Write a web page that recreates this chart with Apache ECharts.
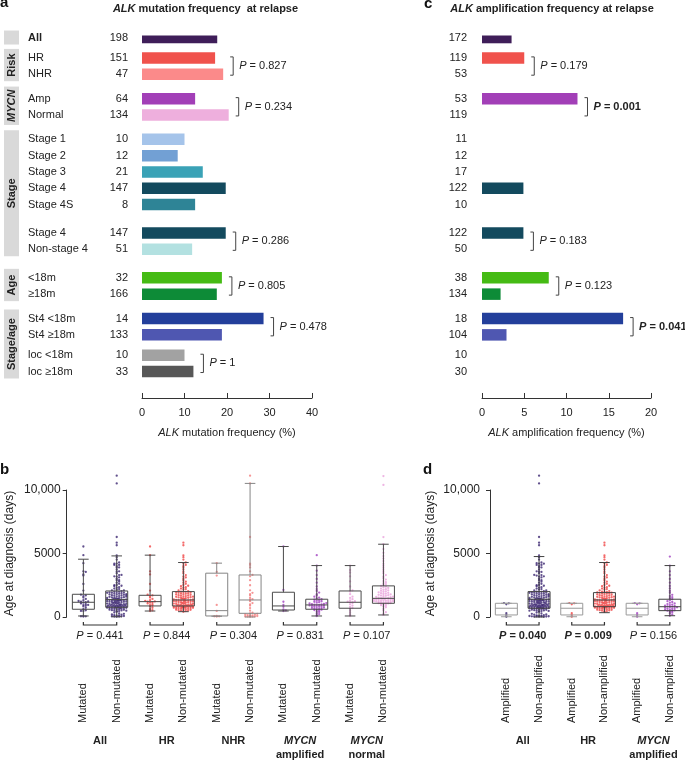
<!DOCTYPE html>
<html>
<head>
<meta charset="utf-8">
<title>ALK at relapse</title>
<script src="https://cdn.jsdelivr.net/npm/echarts@6.0.0/dist/echarts.min.js"></script>
<style>
html,body{margin:0;padding:0;background:#ffffff;}
#chart{width:685px;height:761px;}
</style>
</head>
<body>
<div id="chart"></div>
<script>
// ================= DATA =================
const rowLabels = ['All','HR','NHR','Amp','Normal','Stage 1','Stage 2','Stage 3','Stage 4','Stage 4S','Stage 4','Non-stage 4','<18m','\u226518m','St4 <18m','St4 \u226518m','loc <18m','loc \u226518m'];
const mutCounts = [198,151,47,64,134,10,12,21,147,8,147,51,32,166,14,133,10,33];
const mutFreq   = [17.7,17.2,19.1,12.5,20.4,10.0,8.4,14.3,19.7,12.5,19.7,11.8,18.8,17.6,28.6,18.8,10.0,12.1];
const ampCounts = [172,119,53,53,119,11,12,17,122,10,122,50,38,134,18,104,10,30];
const ampFreq   = [3.5,5.0,0,11.3,0,0,0,0,4.9,0,4.9,0,7.9,2.2,16.7,2.9,0,0];
const subgroupRows = [[0,0],[1,2],[3,4],[5,9],[10,11],[12,13],[14,15],[16,17]];
const mutP = [null,'0.827','0.234',null,'0.286','0.805','0.478','1'];
const mutPBold = [false,false,false,false,false,false,false,false];
const ampP = [null,'0.179','0.001',null,'0.183','0.123','0.041',null];
const ampPBold = [false,false,true,false,false,false,true,false];
const sideLabels = ['','Risk','MYCN','Stage','Age','Stage/age'];
const sideRows = [[0,0],[1,2],[3,4],[5,11],[12,13],[14,17]];
const mutTicks = [0,10,20,30,40];
const ampTicks = [0,5,10,15,20];

// Panel b / d
const bCats = ['Mutated','Non-mutated','Mutated','Non-mutated','Mutated','Non-mutated','Mutated','Non-mutated','Mutated','Non-mutated'];
const bGroups = [['All'],['HR'],['NHR'],['MYCN','amplified'],['MYCN','normal']];
const bP = ['0.441','0.844','0.304','0.831','0.107'];
const bPBold = [false,false,false,false,false];
const dCats = ['Amplified','Non-amplified','Amplified','Non-amplified','Amplified','Non-amplified'];
const dGroups = [['All'],['HR'],['MYCN','amplified']];
const dP = ['0.040','0.009','0.156'];
const dPBold = [true,true,false];
const ageTicks = [0,5000,10000];
// box statistics [min, Q1, median, Q3, max] (days)
const bBox = [
  [80,610,1160,1790,4550],[20,765,1370,2050,4810],
  [470,870,1210,1710,4870],[420,870,1340,2000,4290],
  [60,80,500,3450,4240],[0,290,1340,3310,10520],
  [470,550,870,1950,5550],[80,610,950,1400,4050],
  [80,690,1160,2050,4050],[160,1080,1470,2450,5730]
];
const dBox = [
  [20,160,690,1080,1080],[0,690,1400,2000,4760],
  [20,160,690,1080,1080],[340,810,1340,1920,4290],
  [20,160,690,1080,1080],[100,500,810,1400,4050]
];
// individual ages (days), estimated from the dot clouds
const ptsHRMut = [470,530,610,720,830,880,940,1010,1070,1130,1170,1200,1230,1260,1320,1420,1530,1640,1700,1760,2080,2600,3350,3600,4870,5550];
const ptsNHRMut = [30,50,60,90,480,950,3260,3550,4240];
const ptsHRNon = [420,445,470,500,515,540,565,580,600,615,640,655,680,700,705,720,735,740,750,765,770,785,790,800,815,820,835,840,850,860,870,
  880,895,910,925,935,950,965,975,1000,1015,1030,1045,1060,1080,1095,1110,1130,1145,1160,1180,1195,1210,1230,1245,1260,1280,1290,1300,1315,1325,1340,
  1355,1380,1395,1420,1440,1455,1480,1500,1515,1540,1560,1585,1600,1625,1650,1675,1700,1720,1750,1775,1800,1825,1850,1870,1900,1915,1940,1960,1985,2000,
  2040,2100,2160,2200,2240,2310,2350,2420,2460,2520,2610,2700,2780,2900,3010,3120,3180,3300,3450,3580,3740,3900,4010,4100,4210,4290,
  4520,4710,4860,5650,5850];
const ptsNHRNon = [20,30,40,50,60,80,100,120,150,180,200,250,290,350,500,700,900,1000,1100,1250,1340,1400,1500,1700,1800,1900,2100,2500,2900,3200,3310,3600,3900,4100,4200,6300,10520,11130];
const ptsAmpMut = [470,520,600,800,950,1200,2130,5550];
const ptsAmpNon = [80,150,230,300,390,450,500,545,580,610,635,670,700,715,750,780,800,825,850,870,900,915,940,950,965,990,1010,1040,1075,1100,1130,1165,1200,1240,1285,1320,1360,1400,1460,1520,1600,1700,1800,1920,2050,2200,2400,2700,3000,3300,3650,4050,4870];
const ptsNormMut = [80,200,350,500,650,700,800,900,1000,1100,1150,1160,1200,1250,1300,1400,1500,1600,1800,2000,2100,2400,2800,3200,3500,3700,4050];
const ptsNormNon = [160,260,380,520,640,760,830,880,930,980,1010,1040,1070,1085,1100,1120,1140,1160,1175,1190,1210,1225,1240,1260,1275,1290,1310,1325,1340,1360,1375,1390,1410,1425,1440,1460,1470,1490,1510,1530,1555,1580,1610,1640,1665,1690,1720,1750,1780,1810,1840,1870,1900,1940,1980,2020,2060,2100,2140,2190,2240,2290,2340,2390,2440,2500,2580,2650,2740,2830,2950,3050,3180,3300,3450,3600,3750,3900,4050,4200,4400,4600,4800,5050,5350,5730,6290,10400,11100];
const ptsAmplified = [20,160,300,1000,1080,1100];
const ptsDAmpNon = [100,200,300,380,430,480,500,530,560,600,630,660,700,730,760,790,810,840,870,900,940,980,1020,1070,1120,1180,1250,1320,1400,1480,1560,1650,1750,1900,2050,2250,2450,2700,3000,3300,3600,4050,4760];

const bPoints = [ptsHRMut.concat(ptsNHRMut), ptsHRNon.concat(ptsNHRNon), ptsHRMut, ptsHRNon, ptsNHRMut, ptsNHRNon, ptsAmpMut, ptsAmpNon, ptsNormMut, ptsNormNon];
const dPoints = [ptsAmplified, ptsHRNon.concat(ptsNHRMut, ptsNHRNon), ptsAmplified, ptsHRNon, ptsAmplified, ptsDAmpNon];

// ================= STYLE / LAYOUT =================
const FONT = '"Liberation Sans", Arial, Helvetica, sans-serif';
const TXT = '#222222';
const ROW_COLORS = ['#3f1e59','#f0524c','#fb8a8a','#a23fb7','#eeafdd','#a5c4ea','#72a0d4','#3aa2b6','#134a5e','#2e8496','#134a5e','#b3e1e1','#45bb14','#0d8b37','#233f9b','#4f57b1','#a2a2a2','#575757'];
const B_BOX_COLORS = ['#4a4a4a','#4a4a4a','#4a4a4a','#4a4a4a','#858585','#858585','#4a4a4a','#4a4a4a','#4a4a4a','#4a4a4a'];
const D_BOX_COLORS = ['#9a9a9a','#404040','#9a9a9a','#404040','#9a9a9a','#404040'];
const B_PT_COLORS = ['#3b2670','#3b2670','#f04545','#f04545','#f47c7c','#f47c7c','#a040c0','#a040c0','#eaa2dc','#eaa2dc'];
const D_PT_COLORS = ['#3b2670','#3b2670','#f04545','#f04545','#a040c0','#a040c0'];

// slot layout of the bar panels (category slots; rows every 4 slots, gaps between subgroups)
const SUB_GAP = [0,5,6,6,7,7,6,5];
const ROW_STEP = 4, TRAIL = 6;
const slotOf = [];
let pos = -SUB_GAP[0];
subgroupRows.forEach((r, g) => {
  pos = (g === 0 ? 0 : pos + SUB_GAP[g]);
  for (let i = r[0]; i <= r[1]; i++) { slotOf[i] = pos; if (i < r[1]) pos += ROW_STEP; }
});
const NSLOT = slotOf[slotOf.length - 1] + 1 + TRAIL;
const slotRow = new Array(NSLOT).fill(-1);
slotOf.forEach((s, i) => slotRow[s] = i);
const slotNames = slotRow.map(r => r < 0 ? '' : rowLabels[r]);

function barData(freq) {
  return slotRow.map(r => r < 0 ? '-' : { value: freq[r], itemStyle: { color: ROW_COLORS[r] } });
}

const measureCtx = document.createElement('canvas').getContext('2d');
function textW(font, s) { measureCtx.font = font; return measureCtx.measureText(s).width; }

const F11 = '11px ' + FONT;
const PRICH = {
  p: { font: 'italic 11px ' + FONT, fill: TXT },
  pb: { font: 'italic bold 11px ' + FONT, fill: TXT },
  b: { font: 'bold 11px ' + FONT, fill: TXT },
  n: { font: '11px ' + FONT, fill: TXT }
};
function pText(p, bold) { return bold ? '{pb|P}{b| = ' + p + '}' : '{p|P}{n| = ' + p + '}'; }

function bracketRender(pTexts, bolds) {
  return function (params, api) {
    const s0 = api.value(0), s1 = api.value(1), mx = api.value(2), g = api.value(3);
    const a = api.coord([mx, s0]), b = api.coord([mx, s1]);
    const x = a[0] + 10, y1 = a[1] - 1, y2 = b[1] + 1;
    return { type: 'group', children: [
      { type: 'polyline', shape: { points: [[x - 3, y1], [x, y1], [x, y2], [x - 3, y2]] }, style: { stroke: '#444', lineWidth: 1, fill: null } },
      { type: 'text', x: x + 6, y: (y1 + y2) / 2, style: { text: pText(pTexts[g], bolds[g]), rich: PRICH, font: F11, fill: TXT, align: 'left', verticalAlign: 'middle' } }
    ] };
  };
}
function bracketData(pArr, freq) {
  const out = [];
  subgroupRows.forEach((r, g) => {
    if (!pArr[g]) return;
    out.push([Math.max.apply(null, freq.slice(r[0], r[1] + 1)), slotOf[r[0]], slotOf[r[1]], g]);
  });
  return out.map(d => [d[1], d[2], d[0], d[3]]);
}

function sideRender(params, api) {
  const s0 = api.value(0), s1 = api.value(1), g = api.value(2);
  const y0 = api.coord([0, s0])[1], y1 = api.coord([0, s1])[1];
  const label = sideLabels[g];
  const font = (label === 'MYCN' ? 'italic ' : '') + 'bold 11px ' + FONT;
  const tw = label ? textW(font, label) : 0;
  let h, cy;
  if (s0 === s1) { h = 14; cy = (y0 + y1) / 2; }
  else { h = Math.max(y1 - y0 + 16, tw + 6); cy = (y0 + y1) / 2 - 1; }
  return { type: 'group', children: [
    { type: 'rect', shape: { x: 4, y: cy - h / 2, width: 15, height: h }, style: { fill: '#d9d9d9' } },
    { type: 'text', x: 11.5, y: cy, rotation: Math.PI / 2, style: { text: label, font: font, fill: TXT, align: 'center', verticalAlign: 'middle' } }
  ] };
}

function boxRender(colors) {
  return function (params, api) {
    const c = api.value(0);
    const pMin = api.coord([c, api.value(1)]), pQ1 = api.coord([c, api.value(2)]), pMed = api.coord([c, api.value(3)]),
          pQ3 = api.coord([c, api.value(4)]), pMax = api.coord([c, api.value(5)]);
    const x = pMin[0], hw = 11, cw = 5.3;
    const stroke = colors[params.dataIndex];
    const ls = { stroke: stroke, lineWidth: 1, fill: null };
    return { type: 'group', children: [
      { type: 'rect', shape: { x: x - hw, y: pQ3[1], width: 2 * hw, height: pQ1[1] - pQ3[1] }, style: { stroke: stroke, fill: null, lineWidth: 1 } },
      { type: 'line', shape: { x1: x - hw, y1: pMed[1], x2: x + hw, y2: pMed[1] }, style: ls },
      { type: 'line', shape: { x1: x, y1: pQ3[1], x2: x, y2: pMax[1] }, style: ls },
      { type: 'line', shape: { x1: x - cw, y1: pMax[1], x2: x + cw, y2: pMax[1] }, style: ls },
      { type: 'line', shape: { x1: x, y1: pQ1[1], x2: x, y2: pMin[1] }, style: ls },
      { type: 'line', shape: { x1: x - cw, y1: pMin[1], x2: x + cw, y2: pMin[1] }, style: ls }
    ] };
  };
}

function pairRender(groups, ps, bolds) {
  return function (params, api) {
    const i = api.value(2);
    const a = api.coord([2 * i, 0]), b = api.coord([2 * i + 1, 0]);
    const y = a[1] + 8, mid = (a[0] + b[0]) / 2;
    const g = groups[i];
    const gtxt = g.length > 1 ? '{gi|' + g[0] + '}\n{g|' + g[1] + '}' : '{g|' + g[0] + '}';
    return { type: 'group', children: [
      { type: 'polyline', shape: { points: [[a[0], y - 3], [a[0], y], [b[0], y], [b[0], y - 3]] }, style: { stroke: '#333', lineWidth: 1.2, fill: null } },
      { type: 'text', x: mid, y: y + 11, style: { text: pText(ps[i], bolds[i]), rich: PRICH, font: F11, fill: TXT, align: 'center', verticalAlign: 'middle' } },
      { type: 'text', x: mid, y: a[1] + 117, style: { text: gtxt, font: 'bold 11px ' + FONT, fill: TXT, align: 'center', verticalAlign: 'top',
          rich: { g: { font: 'bold 11px ' + FONT, fill: TXT, lineHeight: 14 }, gi: { font: 'italic bold 11px ' + FONT, fill: TXT, lineHeight: 14 } } } }
    ] };
  };
}

// deterministic beeswarm offsets (pixels)
function swarm(vals) {
  const BIN = 170, STEP = 2.4;
  const seq = [0,1,-1,2,-2,3,-3,4,-4,0.5,-0.5,1.5,-1.5,2.5,-2.5,3.5,-3.5,4.5,-4.5];
  const cnt = {};
  return vals.map(v => {
    const b = Math.round(v / BIN);
    const k = cnt[b] = (cnt[b] || 0) + 1;
    return seq[(k - 1) % seq.length] * STEP;
  });
}
function scatterSeries(pointsArr, colors, xi, yi) {
  return pointsArr.map((vals, c) => {
    const offs = swarm(vals);
    return {
      type: 'scatter', xAxisIndex: xi, yAxisIndex: yi, clip: false, z: 2, silent: true,
      symbol: 'circle', symbolSize: 2.3,
      itemStyle: { color: colors[c], opacity: 0.8 },
      data: vals.map((v, k) => ({ value: [c, v], symbolOffset: [offs[k], 0] }))
    };
  });
}

function ageFmt(v) { return v >= 10000 ? String(v).replace(/\B(?=(\d{3})+(?!\d))/g, ',') : String(v); }

const chart = echarts.init(document.getElementById('chart'), null, { renderer: 'canvas' });

const barGridTop = 35.5, slotPx = 4.073;
const grids = [
  { left: 142, top: barGridTop, width: 170, height: NSLOT * slotPx, outerBoundsMode: 'none' },
  { left: 482, top: barGridTop, width: 169, height: NSLOT * slotPx, outerBoundsMode: 'none' },
  { left: 66.7, top: 490, width: 333.4, height: 127, outerBoundsMode: 'none' },
  { left: 490, top: 490, width: 196.2, height: 127, outerBoundsMode: 'none' }
];

function freqAxis(grid, ticks, nameMain) {
  return {
    type: 'value', gridIndex: grid, min: ticks[0], max: ticks[ticks.length - 1], interval: ticks[1] - ticks[0],
    axisLine: { show: true, lineStyle: { color: '#333', width: 1 } },
    axisTick: { show: true, inside: true, length: 5, lineStyle: { color: '#333', width: 1 } },
    axisLabel: { show: true, fontSize: 11, fontFamily: FONT, color: TXT, margin: 9 },
    splitLine: { show: false },
    name: '{i|ALK}{n| ' + nameMain + '}', nameLocation: 'middle', nameGap: 29,
    nameTextStyle: { fontSize: 11, fontFamily: FONT, color: TXT,
      rich: { i: { fontStyle: 'italic', fontSize: 11, fontFamily: FONT, color: TXT }, n: { fontSize: 11, fontFamily: FONT, color: TXT } } }
  };
}
function catAxisBox(grid, cats) {
  return {
    type: 'category', gridIndex: grid, data: cats,
    axisLine: { show: false }, axisTick: { show: false },
    axisLabel: { show: true, interval: 0, rotate: 90, align: 'left', verticalAlign: 'middle', margin: 106, fontSize: 11, fontFamily: FONT, color: TXT, hideOverlap: false }
  };
}
function ageAxis(grid, margin, gap) {
  return {
    type: 'value', gridIndex: grid, min: ageTicks[0], max: ageTicks[ageTicks.length - 1], interval: ageTicks[1] - ageTicks[0],
    axisLine: { show: true, lineStyle: { color: '#333', width: 1 } },
    axisTick: { show: true, inside: false, length: 4, lineStyle: { color: '#333', width: 1 } },
    axisLabel: { show: true, fontSize: 12, fontFamily: FONT, color: TXT, margin: margin, formatter: ageFmt },
    splitLine: { show: false },
    name: 'Age at diagnosis (days)', nameLocation: 'middle', nameGap: gap, nameRotate: 90,
    nameTextStyle: { fontSize: 12, fontFamily: FONT, color: TXT }
  };
}

const option = {
  animation: false,
  backgroundColor: '#ffffff',
  grid: grids,
  xAxis: [
    freqAxis(0, mutTicks, 'mutation frequency (%)'),
    freqAxis(1, ampTicks, 'amplification frequency (%)'),
    catAxisBox(2, bCats),
    catAxisBox(3, dCats)
  ],
  yAxis: [
    { type: 'category', gridIndex: 0, data: slotNames, inverse: true, axisLine: { show: false }, axisTick: { show: false },
      axisLabel: { show: true, interval: 0, hideOverlap: false, margin: 14, align: 'right',
        formatter: function (v, idx) {
          const r = slotRow[idx]; if (r < 0) return '';
          return (r === 0 ? '{nb|' : '{n|') + rowLabels[r] + '}{c|' + mutCounts[r] + '}';
        },
        rich: {
          n: { width: 70, align: 'left', fontSize: 11, fontFamily: FONT, color: TXT },
          nb: { width: 70, align: 'left', fontSize: 11, fontFamily: FONT, color: TXT, fontWeight: 'bold' },
          c: { width: 30, align: 'right', fontSize: 11, fontFamily: FONT, color: TXT }
        } } },
    { type: 'category', gridIndex: 1, data: slotNames, inverse: true, axisLine: { show: false }, axisTick: { show: false },
      axisLabel: { show: true, interval: 0, hideOverlap: false, margin: 15, fontSize: 11, fontFamily: FONT, color: TXT,
        formatter: function (v, idx) { const r = slotRow[idx]; return r < 0 ? '' : String(ampCounts[r]); } } },
    ageAxis(2, 6, 51),
    ageAxis(3, 10, 53)
  ],
  graphic: [
    { type: 'text', x: 0, y: 3, style: { text: 'a', font: 'bold 15px ' + FONT, fill: '#111', align: 'left', verticalAlign: 'middle' } },
    { type: 'text', x: 424, y: 3.5, style: { text: 'c', font: 'bold 15px ' + FONT, fill: '#111', align: 'left', verticalAlign: 'middle' } },
    { type: 'text', x: 0, y: 470, style: { text: 'b', font: 'bold 15px ' + FONT, fill: '#111', align: 'left', verticalAlign: 'middle' } },
    { type: 'text', x: 423, y: 470, style: { text: 'd', font: 'bold 15px ' + FONT, fill: '#111', align: 'left', verticalAlign: 'middle' } },
    { type: 'text', x: 205.5, y: 9, style: { text: '{i|ALK}{b| mutation frequency  at relapse}', font: 'bold 11px ' + FONT, fill: TXT, align: 'center', verticalAlign: 'middle',
        rich: { i: { font: 'italic bold 11px ' + FONT, fill: TXT }, b: { font: 'bold 11px ' + FONT, fill: TXT } } } },
    { type: 'text', x: 552, y: 9, style: { text: '{i|ALK}{b| amplification frequency at relapse}', font: 'bold 11px ' + FONT, fill: TXT, align: 'center', verticalAlign: 'middle',
        rich: { i: { font: 'italic bold 11px ' + FONT, fill: TXT }, b: { font: 'bold 11px ' + FONT, fill: TXT } } } }
  ],
  series: [
    { type: 'bar', xAxisIndex: 0, yAxisIndex: 0, barWidth: 11.5, data: barData(mutFreq), silent: true },
    { type: 'bar', xAxisIndex: 1, yAxisIndex: 1, barWidth: 11.5, data: barData(ampFreq), silent: true },
    { type: 'custom', xAxisIndex: 0, yAxisIndex: 0, renderItem: bracketRender(mutP, mutPBold), data: bracketData(mutP, mutFreq), silent: true, z: 5 },
    { type: 'custom', xAxisIndex: 1, yAxisIndex: 1, renderItem: bracketRender(ampP, ampPBold), data: bracketData(ampP, ampFreq), silent: true, z: 5 },
    { type: 'custom', xAxisIndex: 0, yAxisIndex: 0, renderItem: sideRender, data: sideRows.map((r, g) => [slotOf[r[0]], slotOf[r[1]], g]), silent: true, z: 1 },
    { type: 'custom', xAxisIndex: 2, yAxisIndex: 2, renderItem: boxRender(B_BOX_COLORS), data: bBox.map((b, i) => [i].concat(b)), encode: { x: 0, y: [1,2,3,4,5] }, silent: true, z: 3 },
    { type: 'custom', xAxisIndex: 3, yAxisIndex: 3, renderItem: boxRender(D_BOX_COLORS), data: dBox.map((b, i) => [i].concat(b)), encode: { x: 0, y: [1,2,3,4,5] }, silent: true, z: 3 },
    { type: 'custom', xAxisIndex: 2, yAxisIndex: 2, renderItem: pairRender(bGroups, bP, bPBold), data: bGroups.map((g, i) => [2 * i, 0, i]), silent: true, z: 4 },
    { type: 'custom', xAxisIndex: 3, yAxisIndex: 3, renderItem: pairRender(dGroups, dP, dPBold), data: dGroups.map((g, i) => [2 * i, 0, i]), silent: true, z: 4 }
  ].concat(scatterSeries(bPoints, B_PT_COLORS, 2, 2), scatterSeries(dPoints, D_PT_COLORS, 3, 3))
};
chart.setOption(option);
</script>
</body>
</html>
